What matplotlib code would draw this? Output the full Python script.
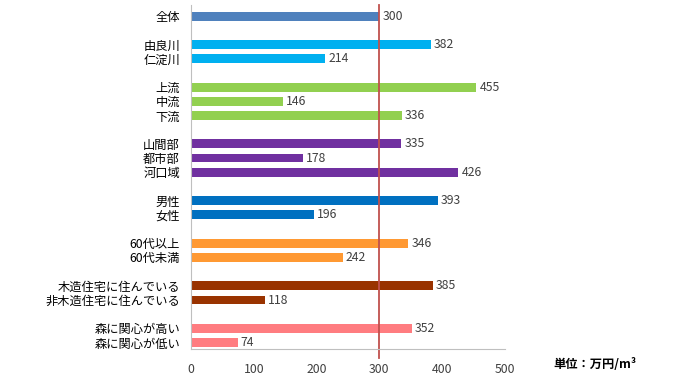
import matplotlib.pyplot as plt

plt.rcParams['font.family'] = ['Noto Sans CJK JP', 'DejaVu Sans']

# groups of categories, values (万円/m3) and bar colours
groups = [
    (['全体'], [300], '#4F81BD'),
    (['由良川', '仁淀川'], [382, 214], '#00B0F0'),
    (['上流', '中流', '下流'], [455, 146, 336], '#92D050'),
    (['山間部', '都市部', '河口域'], [335, 178, 426], '#7030A0'),
    (['男性', '女性'], [393, 196], '#0070C0'),
    (['60代以上', '60代未満'], [346, 242], '#FF9933'),
    (['木造住宅に住んでいる', '非木造住宅に住んでいる'], [385, 118], '#993300'),
    (['森に関心が高い', '森に関心が低い'], [352, 74], '#FF7C80'),
]
overall = 300
xticks = [0, 100, 200, 300, 400, 500]

fig = plt.figure(figsize=(7, 3.82), dpi=100)
ax = fig.add_axes([0.273, 0.0864, 0.448, 0.9])

pos = []
labels = []
slot = 0
for names, vals, col in groups:
    ys = list(range(slot, slot + len(names)))
    ax.barh(ys, vals, height=0.62, color=col)
    for y, v in zip(ys, vals):
        ax.text(v + 5, y, str(v), va='center', ha='left', fontsize=8.8, color='#404040')
    pos += ys
    labels += names
    slot += len(names) + 1

ax.set_yticks(pos)
ax.set_yticklabels(labels, fontsize=9.8)
ax.set_ylim(slot - 1 - 0.55, -0.77)
ax.set_xlim(0, 500)
ax.set_xticks(xticks)
ax.tick_params(axis='both', length=0, colors='#404040', labelsize=8.8)
ax.tick_params(axis='y', pad=8, colors='black')
ax.tick_params(axis='x', pad=10)

for s in ['top', 'right']:
    ax.spines[s].set_visible(False)
for s in ['left', 'bottom']:
    ax.spines[s].set_color('#BFBFBF')

ax.axvline(overall, ymin=-0.025, ymax=1, color='#C0504D', lw=1.3, clip_on=False)

fig.text(0.79, 0.047, '単位：万円/m³', fontsize=8.8, fontweight='bold', va='center')

fig.savefig('out.png', dpi=100)
